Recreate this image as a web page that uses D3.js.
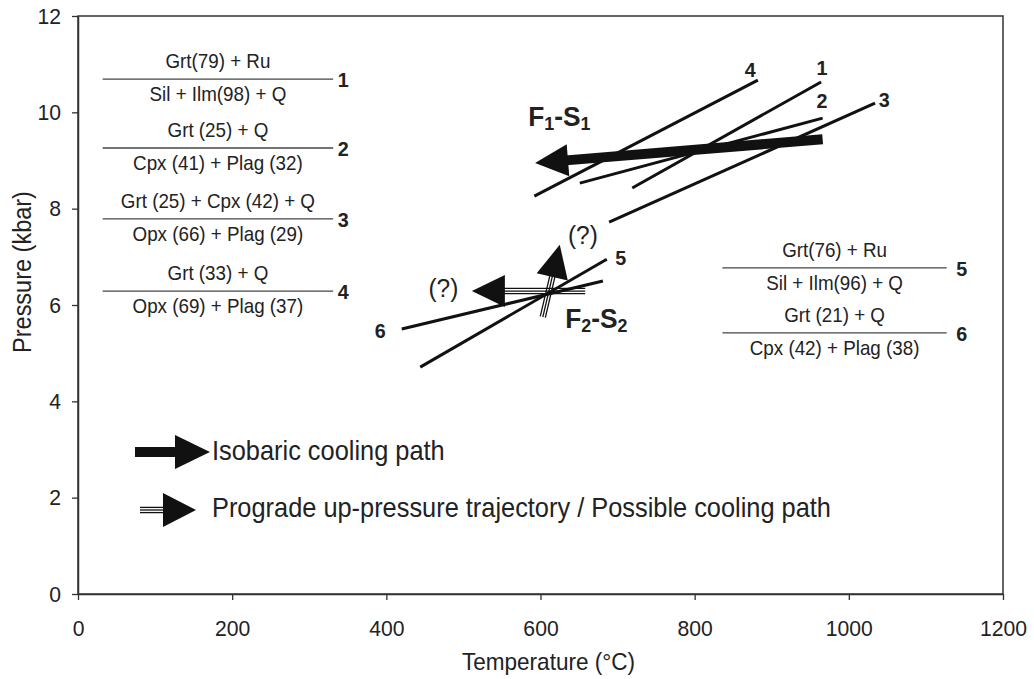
<!DOCTYPE html>
<html>
<head>
<meta charset="utf-8">
<script src="https://cdn.jsdelivr.net/npm/d3@7"></script>
<style>
  body { margin: 0; background: #fff; }
  text { font-family: "Liberation Sans", Arial, Helvetica, sans-serif; fill: #222; }
</style>
</head>
<body>
<script>
// size of the page and of the plot box
var width = 1034;
var height = 679;
var margin = {top: 16, right: 31, bottom: 85, left: 78};
var sx = 0.94; // the original lettering is a little narrow

// axes
var xTicks = [0, 200, 400, 600, 800, 1000, 1200];
var yTicks = [0, 2, 4, 6, 8, 10, 12];

// reaction curves (T in degC, P in kbar)
var reactionIds = ["1", "2", "3", "4", "5", "6"];
var reactionT1 = [719, 651, 689, 592, 444, 420];
var reactionP1 = [8.43, 8.53, 7.72, 8.26, 4.71, 5.50];
var reactionT2 = [964, 966, 1034, 882, 686, 681];
var reactionP2 = [10.63, 9.88, 10.19, 10.67, 6.95, 6.50];
var reactionLabelT = [965, 965, 1046, 872, 704, 392];
var reactionLabelP = [10.92, 10.23, 10.26, 10.88, 6.98, 5.46];

// reaction equations written as fractions
var eqTop = ["Grt(79) + Ru", "Grt (25) + Q", "Grt (25) + Cpx (42) + Q", "Grt (33) + Q", "Grt(76) + Ru", "Grt (21) + Q"];
var eqBottom = ["Sil + Ilm(98) + Q", "Cpx (41) + Plag (32)", "Opx (66) + Plag (29)", "Opx (69) + Plag (37)", "Sil + Ilm(96) + Q", "Cpx (42) + Plag (38)"];
var eqT1 = [32, 32, 32, 32, 836, 836];
var eqT2 = [331, 331, 331, 331, 1127, 1127];
var eqP = [10.69, 9.26, 7.79, 6.29, 6.77, 5.42];

// P-T paths: start and tip
var pathType = ["isobaric", "prograde", "prograde"];
var pathT0 = [966, 658, 603];
var pathP0 = [9.44, 6.29, 5.75];
var pathT1 = [593, 511, 625];
var pathP1 = [8.95, 6.29, 7.25];

// stage labels and question marks
var stageMain = [["F", "1", "-S", "1"], ["F", "2", "-S", "2"]];
var stageT = [584, 632];
var stageP = [9.72, 5.52];
var queryT = [655, 474];
var queryP = [7.45, 6.35];

var legendLabels = ["Isobaric cooling path", "Prograde up-pressure trajectory / Possible cooling path"];

var x = d3.scaleLinear().domain([0, 1200]).range([margin.left, width - margin.right]);
var y = d3.scaleLinear().domain([0, 12]).range([height - margin.bottom, margin.top]);

var svg = d3.select("body")
  .append("svg")
  .attr("width", width)
  .attr("height", height);

// axes
var xAxis = svg.append("g")
  .attr("transform", "translate(0," + y(0) + ")")
  .call(d3.axisBottom(x).tickValues(xTicks).tickFormat(d3.format("d"))
    .tickSize(6).tickSizeOuter(0).tickPadding(20));
var yAxis = svg.append("g")
  .attr("transform", "translate(" + x(0) + ",0)")
  .call(d3.axisLeft(y).tickValues(yTicks).tickFormat(d3.format("d"))
    .tickSize(6).tickSizeOuter(0).tickPadding(12));

svg.selectAll(".tick line").attr("stroke", "#333").attr("stroke-width", 1.3);
svg.selectAll(".domain").attr("stroke", "#333").attr("stroke-width", 1.5);
svg.selectAll(".tick text")
  .attr("font-family", "'Liberation Sans', Arial, sans-serif")
  .attr("font-size", 22.5)
  .attr("fill", "#222")
  .attr("transform", "scale(" + sx + ",1)");

// box around the plot
svg.append("rect")
  .attr("x", x(0))
  .attr("y", y(12))
  .attr("width", x(1200) - x(0))
  .attr("height", y(0) - y(12))
  .attr("fill", "none")
  .attr("stroke", "#333")
  .attr("stroke-width", 1.5);

function addText(g, px, py, str, size, anchor, weight) {
  return g.append("text")
    .attr("transform", "translate(" + px + "," + py + ") scale(" + sx + ",1)")
    .attr("text-anchor", anchor || "start")
    .style("font-size", size + "px")
    .style("font-weight", weight || "normal")
    .text(str);
}

// axis titles
addText(svg, (x(0) + x(1200)) / 2 + 8, 670, "Temperature (\u00b0C)", 24, "middle");
svg.append("text")
  .attr("transform", "translate(31,272) rotate(-90) scale(" + sx + ",1)")
  .attr("text-anchor", "middle")
  .style("font-size", "25px")
  .text("Pressure (kbar)");

// reaction curves
var curves = svg.append("g");
reactionIds.forEach(function(id, i) {
  curves.append("line")
    .attr("x1", x(reactionT1[i])).attr("y1", y(reactionP1[i]))
    .attr("x2", x(reactionT2[i])).attr("y2", y(reactionP2[i]))
    .attr("stroke", "#111")
    .attr("stroke-width", 3);
  addText(curves, x(reactionLabelT[i]), y(reactionLabelP[i]) + 7, id, 21, "middle", "bold");
});

// reaction equations
var eqs = svg.append("g");
eqTop.forEach(function(t, i) {
  var x1 = x(eqT1[i]), x2 = x(eqT2[i]), yy = y(eqP[i]);
  eqs.append("line")
    .attr("x1", x1).attr("x2", x2)
    .attr("y1", yy).attr("y2", yy)
    .attr("stroke", "#444")
    .attr("stroke-width", 1.3);
  addText(eqs, (x1 + x2) / 2, yy - 11, t, 20, "middle");
  addText(eqs, (x1 + x2) / 2, yy + 22, eqBottom[i], 20, "middle");
  addText(eqs, x2 + (i < 4 ? 10 : 15), yy + 8, reactionIds[i], 21, "middle", "bold");
});

// arrow drawing: shaft from (x0,y0), head ending at (x1,y1)
function drawArrow(g, x0, y0, x1, y1, type, headLen, headHalf) {
  var dx = x1 - x0, dy = y1 - y0;
  var len = Math.sqrt(dx * dx + dy * dy);
  var ux = dx / len, uy = dy / len;
  var nx = -uy, ny = ux;
  var bx = x1 - ux * headLen, by = y1 - uy * headLen;
  if (type === "isobaric") {
    g.append("line")
      .attr("x1", x0).attr("y1", y0)
      .attr("x2", bx + ux * 2).attr("y2", by + uy * 2)
      .attr("stroke", "#111")
      .attr("stroke-width", 10);
  } else {
    [-2.6, 0, 2.6].forEach(function(o) {
      g.append("line")
        .attr("x1", x0 + nx * o).attr("y1", y0 + ny * o)
        .attr("x2", bx + nx * o + ux * 2).attr("y2", by + ny * o + uy * 2)
        .attr("stroke", "#111")
        .attr("stroke-width", 1.3);
    });
  }
  g.append("path")
    .attr("d", d3.line()([
      [x1, y1],
      [bx + nx * headHalf, by + ny * headHalf],
      [bx - nx * headHalf, by - ny * headHalf]
    ]) + "Z")
    .attr("fill", "#111");
}

var paths = svg.append("g");
pathType.forEach(function(t, i) {
  drawArrow(paths, x(pathT0[i]), y(pathP0[i]), x(pathT1[i]), y(pathP1[i]), t, 33, 16);
});

// stage labels with subscripts
stageMain.forEach(function(parts, i) {
  var t = svg.append("text")
    .attr("transform", "translate(" + x(stageT[i]) + "," + y(stageP[i]) + ") scale(" + sx + ",1)")
    .style("font-size", "28px")
    .style("font-weight", "bold");
  t.append("tspan").text(parts[0]);
  t.append("tspan").attr("dy", 4).style("font-size", "19px").text(parts[1]);
  t.append("tspan").attr("dy", -4).text(parts[2]);
  t.append("tspan").attr("dy", 4).style("font-size", "19px").text(parts[3]);
});

queryT.forEach(function(t, i) {
  addText(svg, x(t), y(queryP[i]) + 9, "(?)", 26, "middle");
});

// legend
var legend = svg.append("g");
drawArrow(legend, 135, 452, 210, 452, "isobaric", 35, 17);
drawArrow(legend, 140, 510, 196, 510, "prograde", 33, 17);
addText(legend, 212, 460, legendLabels[0], 27, "start");
addText(legend, 212, 517, legendLabels[1], 27, "start");
</script>
</body>
</html>
